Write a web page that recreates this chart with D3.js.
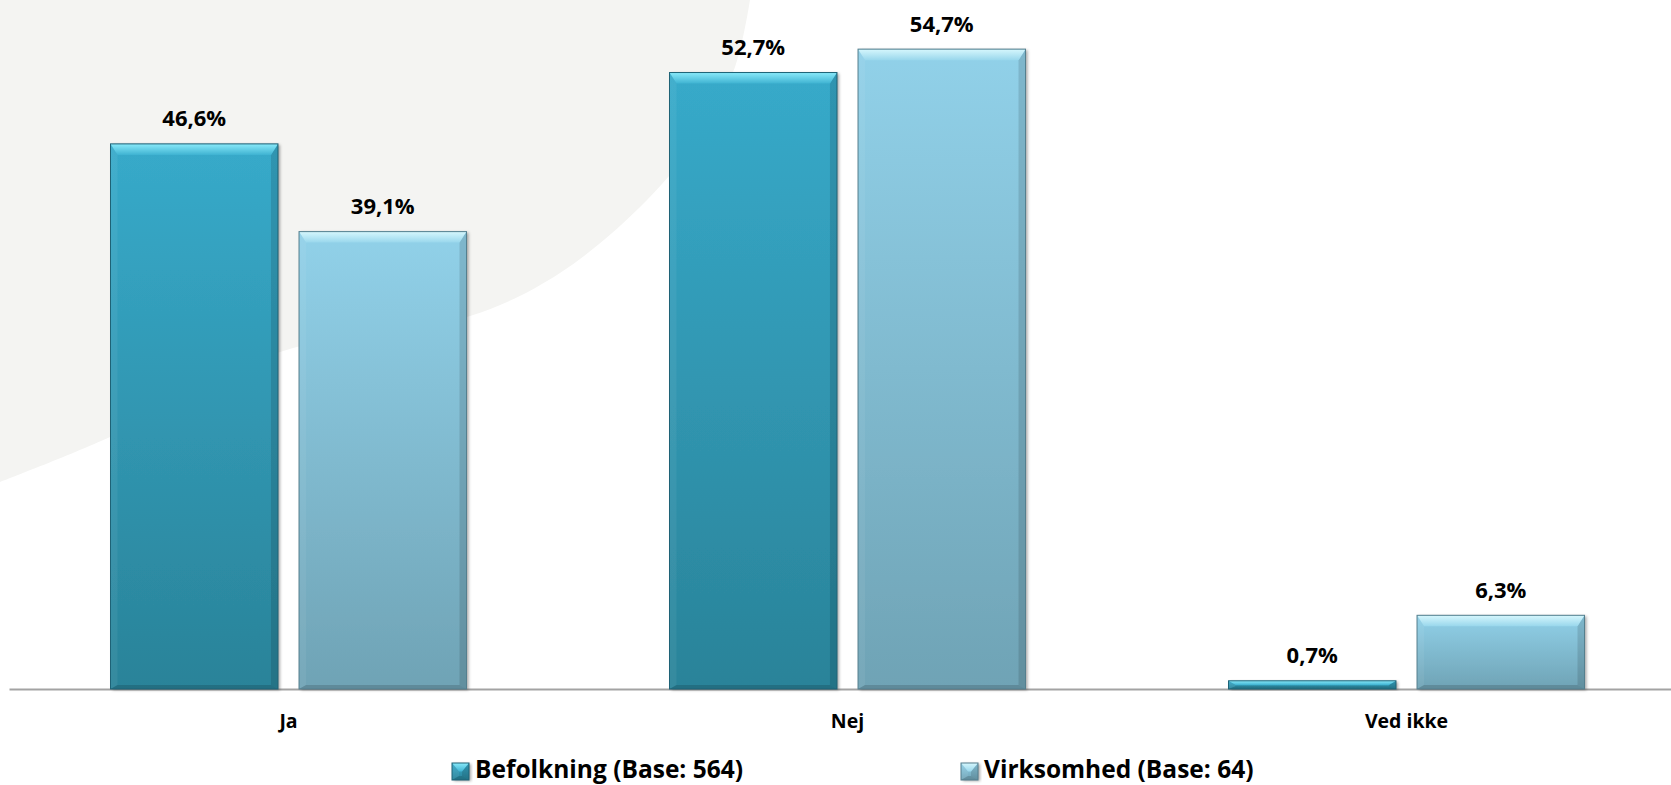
<!DOCTYPE html>
<html>
<head>
<meta charset="utf-8">
<script src="https://cdn.jsdelivr.net/npm/d3@7"></script>
<style>
  html, body { margin: 0; padding: 0; background: #ffffff; }
  svg { display: block; }
  text { font-family: "Open Sans", "Liberation Sans", sans-serif; font-weight: 700; fill: #000; }
</style>
</head>
<body>
<svg id="chart" width="1671" height="785"></svg>
<script>
// ---- data ----
const categories = ["Ja", "Nej", "Ved ikke"];
const seriesNames = ["Befolkning (Base: 564)", "Virksomhed (Base: 64)"];
const befolkning = [46.6, 52.7, 0.7];
const virksomhed = [39.1, 54.7, 6.3];

// decorative background arc (outline points of the pale grey shape)
const bgShape = [[0, 482], [110, 437], [280, 352], [470, 316], [560, 273], [647, 200], [700, 135], [735, 67], [750, 0]];

const W = 1671, H = 785;
const svg = d3.select("#chart");

const locale = d3.formatLocale({decimal: ",", thousands: ".", grouping: [3], currency: ["", " kr"]});
const fmt = v => locale.format(".1f")(v) + "%";

// ---- background ----
const bgLine = d3.line().curve(d3.curveCatmullRom.alpha(0.5));
svg.append("path")
  .attr("d", "M0,0 L" + bgShape[0].join(",") + bgLine(bgShape).replace(/^M[^CL]*/, "") + " Z")
  .attr("fill", "#f4f4f2");

// ---- defs ----
const defs = svg.append("defs");
const palettes = [
  {body: ["#37aaca", "#2a8399"], bevel: ["#8aeafa", "#3fb3d2"], stroke: "#1e6276"},
  {body: ["#91d1e9", "#6fa3b5"], bevel: ["#d6f7fd", "#99d7ec"], stroke: "#547f8e"}
];
palettes.forEach((p, i) => {
  const g = defs.append("linearGradient").attr("id", "body" + i)
    .attr("x1", 0).attr("y1", 0).attr("x2", 0).attr("y2", 1);
  g.append("stop").attr("offset", "0%").attr("stop-color", p.body[0]);
  g.append("stop").attr("offset", "100%").attr("stop-color", p.body[1]);
  const b = defs.append("linearGradient").attr("id", "bevel" + i)
    .attr("x1", 0).attr("y1", 0).attr("x2", 0).attr("y2", 1);
  b.append("stop").attr("offset", "0%").attr("stop-color", p.bevel[0]);
  b.append("stop").attr("offset", "100%").attr("stop-color", p.bevel[1]);
});
const f = defs.append("filter").attr("id", "shadow").attr("x", "-10%").attr("y", "-10%").attr("width", "130%").attr("height", "130%");
f.append("feDropShadow").attr("dx", 2).attr("dy", 1).attr("stdDeviation", 1.6)
  .attr("flood-color", "#000").attr("flood-opacity", 0.35);

// ---- scales ----
const x0 = d3.scaleBand().domain(categories).range([9, 1686]).padding(0);
const x1 = d3.scaleBand().domain(seriesNames).range([101.5, 457.5]).paddingInner(0.1117).paddingOuter(0);
const y = d3.scaleLinear().domain([0, 58.9]).range([689, 0]);

const data = categories.map((c, i) => ({
  cat: c,
  vals: [
    {s: seriesNames[0], k: 0, v: befolkning[i]},
    {s: seriesNames[1], k: 1, v: virksomhed[i]}
  ]
}));

// ---- axis ----
const axis = svg.append("g").attr("transform", `translate(0,${y(0)})`)
  .call(d3.axisBottom(x0).tickSize(0));
axis.select(".domain").attr("stroke", "#a3a3a3").attr("stroke-width", 2);
axis.selectAll(".tick text")
  .attr("y", 39).attr("dy", 0)
  .style("font-family", '"Open Sans", sans-serif')
  .style("font-weight", 700).style("font-size", "19.5px").attr("fill", "#000");

// ---- bars ----
function drawBar(g, x, yTop, w, h, k) {
  const p = palettes[k];
  const bt = Math.min(11, h / 2), bs = Math.min(7, w / 2), bb = Math.min(4, h / 3);
  g.append("rect").attr("x", x).attr("y", yTop).attr("width", w).attr("height", h)
    .attr("fill", `url(#body${k})`).attr("filter", "url(#shadow)");
  g.append("path").attr("d", `M${x},${yTop} L${x + bs},${yTop + bt} L${x + bs},${yTop + h - bb} L${x},${yTop + h} Z`)
    .attr("fill", "#ffffff").attr("fill-opacity", 0.06);
  g.append("path").attr("d", `M${x + w},${yTop} L${x + w - bs},${yTop + bt} L${x + w - bs},${yTop + h - bb} L${x + w},${yTop + h} Z`)
    .attr("fill", "#000000").attr("fill-opacity", 0.12);
  g.append("path").attr("d", `M${x},${yTop + h} L${x + bs},${yTop + h - bb} L${x + w - bs},${yTop + h - bb} L${x + w},${yTop + h} Z`)
    .attr("fill", "#000000").attr("fill-opacity", 0.15);
  g.append("path").attr("d", `M${x},${yTop} L${x + w},${yTop} L${x + w - bs},${yTop + bt} L${x + bs},${yTop + bt} Z`)
    .attr("fill", `url(#bevel${k})`);
  g.append("rect").attr("x", x).attr("y", yTop).attr("width", w).attr("height", h)
    .attr("fill", "none").attr("stroke", p.stroke).attr("stroke-width", 1);
}

const groups = svg.append("g").selectAll("g").data(data).join("g")
  .attr("transform", d => `translate(${x0(d.cat)},0)`);

groups.each(function(d) {
  const g = d3.select(this);
  d.vals.forEach(v => {
    const bx = x1(v.s), bw = x1.bandwidth();
    const top = y(v.v), h = y(0) - y(v.v);
    drawBar(g.append("g"), bx, top, bw, h, v.k);
    g.append("text")
      .attr("x", bx + bw / 2).attr("y", top - 17.5)
      .attr("text-anchor", "middle")
      .style("font-size", "22px")
      .text(fmt(v.v));
  });
});

// ---- legend ----
const legendPos = [452, 961];
const legend = svg.append("g").selectAll("g").data(seriesNames).join("g")
  .attr("transform", (d, i) => `translate(${legendPos[i]},763)`);
legend.each(function(d, i) {
  const g = d3.select(this);
  drawBar(g, 0, 0, 17, 17, i);
  g.append("text").attr("x", 23).attr("y", 15).style("font-size", "24.5px").text(d);
});
</script>
</body>
</html>
